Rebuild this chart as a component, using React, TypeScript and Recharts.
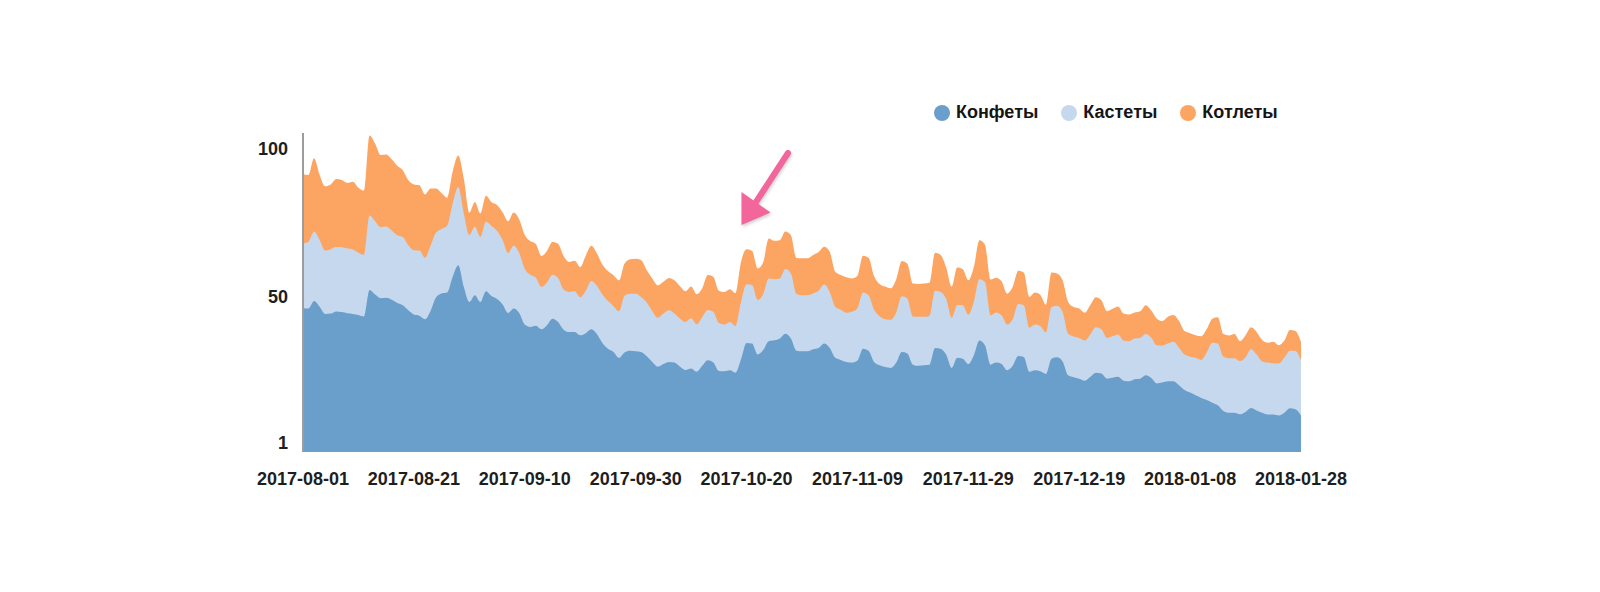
import { ComposedChart, Area, XAxis, YAxis, Legend } from "recharts";

const START_DATE = "2017-08-01";
const DAY_COUNT = 181;

// daily values (Конфеты / Кастеты / Котлеты)
const konfety = [
  46.3, 46.1, 48.6, 46.7, 44.3, 44.4, 45.1, 44.9, 44.5, 44.3, 43.9, 43.4,
  52.3, 50.8, 49.6, 49.7, 49.1, 48.0, 47.2, 45.5, 44.1, 43.7, 42.5, 45.3,
  49.9, 51.2, 51.5, 56.8, 60.7, 53.4, 48.3, 50.6,
  48.3, 51.9, 50.3, 49.3, 47.5, 44.6, 46.1, 44.6, 40.7, 39.9, 40.3, 39.1,
  40.5, 42.7, 41.6, 39.0, 38.2, 38.2, 37.1, 37.8, 39.1, 37.5, 34.5, 32.6,
  31.5, 29.5, 31.3, 31.9, 31.7, 31.5, 30.0, 28.1, 26.5, 27.4, 28.1, 27.9,
  26.5, 25.4, 25.9, 24.8, 26.8, 28.7, 27.9, 25.1, 25.0, 25.3, 24.5, 29.0,
  34.5, 34.3, 30.6, 32.1, 35.1, 35.4, 36.0, 37.6, 36.0, 31.9, 31.7, 31.7,
  32.4, 32.8, 34.3, 32.8, 29.5, 28.8, 28.1, 27.9, 28.6, 32.6, 31.9, 28.1,
  27.0, 26.4, 26.1, 27.9, 31.5, 31.0, 27.2, 26.8, 27.0, 27.2, 32.8, 32.6,
  30.6, 26.1, 29.5, 29.2, 27.4, 30.4, 35.3, 33.7, 27.2, 27.9, 27.4, 25.3,
  26.8, 30.1, 29.8, 24.8, 25.3, 25.0, 24.1, 29.2, 29.7, 28.3, 23.6, 23.0,
  22.5, 21.8, 23.1, 24.5, 24.2, 22.5, 22.8, 23.1, 21.8, 21.6, 22.3, 22.5,
  23.6, 22.7, 20.9, 21.2, 21.6, 21.6, 20.3, 18.7, 17.8, 16.9, 16.0, 15.3,
  14.4, 13.5, 11.6, 11.0, 11.0, 10.5, 11.3, 12.6, 11.8, 11.0, 10.4, 10.4,
  10.1, 11.0, 12.5, 12.2, 10.1,
];

const kastety = [
  21.7, 22.5, 23.4, 22.5, 21.3, 21.7, 21.7, 21.8, 21.8, 21.7, 21.0, 20.8,
  25.1, 24.7, 23.9, 24.0, 23.3, 22.8, 23.0, 21.9, 21.6, 21.9, 20.7, 21.9,
  21.8, 21.7, 22.5, 24.7, 26.3, 24.7, 22.5, 23.0,
  21.9, 23.4, 23.6, 22.9, 21.7, 20.2, 21.1, 20.2, 18.7, 17.6, 16.2, 14.3,
  14.4, 14.8, 14.8, 13.5, 13.5, 13.7, 12.8, 14.3, 16.3, 16.3, 16.3, 16.0,
  15.4, 15.7, 19.1, 19.2, 19.4, 18.5, 18.1, 17.1, 16.5, 17.0, 17.4, 16.5,
  16.2, 16.2, 16.9, 16.0, 16.4, 16.9, 17.1, 16.1, 15.7, 16.3, 15.7, 19.3,
  19.8, 19.7, 18.4, 18.8, 21.1, 20.6, 20.2, 21.8, 21.9, 19.1, 18.9, 18.9,
  18.8, 19.3, 19.9, 18.9, 17.2, 16.9, 16.6, 17.1, 17.6, 18.9, 18.7, 17.6,
  16.5, 16.1, 16.2, 16.9, 18.7, 18.4, 16.2, 16.5, 16.3, 16.4, 19.3, 19.1,
  18.7, 16.9, 17.8, 18.0, 16.6, 18.0, 20.7, 21.3, 16.6, 16.9, 16.4, 15.4,
  15.7, 17.5, 17.4, 14.8, 15.4, 15.1, 13.9, 17.3, 17.3, 16.6, 14.0, 13.7,
  13.7, 13.5, 14.3, 15.3, 14.9, 13.7, 14.0, 14.3, 13.5, 13.5, 13.7, 13.7,
  13.9, 13.6, 12.8, 12.4, 12.7, 13.3, 12.6, 11.9, 12.1, 12.6, 12.8, 16.0,
  20.2, 20.8, 18.3, 18.4, 18.4, 17.9, 18.4, 19.8, 18.8, 17.3, 17.5, 17.3,
  17.5, 18.5, 19.4, 19.6, 18.5,
];

const kotlety = [
  23.3, 22.5, 24.7, 21.9, 21.7, 21.8, 22.9, 22.7, 22.1, 22.8, 21.9, 21.6,
  27.0, 26.2, 24.3, 24.3, 24.0, 23.4, 22.5, 21.9, 22.2, 22.0, 21.3, 19.3,
  14.8, 12.0, 9.4, 10.7, 10.6, 11.8, 7.6, 8.4,
  7.9, 8.8, 8.0, 8.8, 9.3, 10.7, 11.2, 11.3, 11.5, 11.3, 11.3, 10.4,
  10.6, 11.0, 11.5, 11.3, 10.1, 10.3, 10.2, 11.8, 11.8, 10.9, 10.1, 10.1,
  10.4, 10.4, 10.9, 11.6, 11.8, 12.4, 10.9, 11.0, 10.9, 10.7, 10.9, 11.2,
  10.9, 10.3, 10.7, 10.1, 9.7, 11.8, 11.8, 10.9, 11.0, 11.0, 11.1, 13.5,
  11.8, 11.5, 10.6, 10.8, 13.5, 12.9, 12.9, 12.6, 12.9, 12.1, 12.4, 12.4,
  12.9, 13.0, 12.7, 13.5, 11.8, 11.7, 11.9, 11.2, 10.9, 12.4, 12.6, 11.3,
  10.9, 11.0, 10.6, 11.2, 11.9, 11.8, 11.1, 11.1, 11.2, 11.2, 12.8, 12.4,
  10.6, 10.4, 12.6, 12.1, 11.6, 11.8, 13.1, 12.6, 12.1, 11.7, 11.5, 10.4,
  10.9, 11.2, 11.0, 10.4, 10.8, 10.6, 9.4, 11.7, 10.9, 10.7, 10.7, 9.9,
  9.9, 9.4, 9.9, 10.1, 9.8, 9.0, 9.2, 9.4, 9.1, 9.0, 8.8, 9.0,
  9.7, 9.1, 9.0, 8.3, 9.0, 9.0, 9.0, 7.9, 7.9, 7.6, 8.0, 7.9,
  8.1, 8.9, 7.6, 7.6, 8.1, 6.7, 7.4, 7.4, 7.6, 7.2, 6.7, 7.2,
  6.1, 5.8, 7.0, 6.7, 6.2,
];

const yTicks = [1, 50, 100];

const LEGEND = [
  { name: "Конфеты", color: "#6a9fcb" },
  { name: "Кастеты", color: "#c6d8ee" },
  { name: "Котлеты", color: "#fca562" },
];

const FONT = "'Liberation Sans', Arial, sans-serif";

function makeDates(start: string, count: number) {
  const out: string[] = [];
  const t0 = Date.parse(start + "T00:00:00Z");
  for (let i = 0; i < count; i++) {
    out.push(new Date(t0 + i * 86400000).toISOString().slice(0, 10));
  }
  return out;
}

const dates = makeDates(START_DATE, DAY_COUNT);

// cumulative tops so each layer can be painted down to the axis floor
const rows = dates.map((date, i) => ({
  date,
  konf: konfety[i],
  kast: +(konfety[i] + kastety[i]).toFixed(1),
  kotl: +(konfety[i] + kastety[i] + kotlety[i]).toFixed(1),
}));

const renderLegend = () => (
  <div style={{ display: "flex", alignItems: "center", fontFamily: FONT, fontWeight: 700, fontSize: 18, color: "#151515" }}>
    {LEGEND.map((item) => (
      <span key={item.name} style={{ display: "flex", alignItems: "center", marginRight: 23 }}>
        <span style={{ width: 16, height: 16, borderRadius: "50%", background: item.color, marginRight: 6 }} />
        {item.name}
      </span>
    ))}
  </div>
);

export default function App() {
  return (
    <div style={{ position: "relative", width: 1600, height: 592, background: "#fff" }}>
      <style>{"body{margin:0;background:#fff}"}</style>
      <ComposedChart width={1600} height={592} data={rows} margin={{ top: 133, right: 299, bottom: 100, left: 243 }}>
        <XAxis
          dataKey="date"
          interval={19}
          height={40}
          axisLine={false}
          tickLine={false}
          tickMargin={14}
          tick={{ fill: "#1e1e1e", fontSize: 18, fontWeight: 700, fontFamily: FONT }}
        />
        <YAxis
          type="number"
          width={60}
          domain={[-2.2, 105.2]}
          ticks={yTicks}
          interval={0}
          allowDataOverflow
          axisLine={{ stroke: "#9c9c9c", strokeWidth: 2 }}
          tickLine={false}
          tickMargin={9}
          tick={{ fill: "#1e1e1e", fontSize: 18, fontWeight: 700, fontFamily: FONT }}
        />
        <Legend
          layout="horizontal"
          verticalAlign="middle"
          align="center"
          wrapperStyle={{ top: 102, left: 934, width: 440 }}
          content={renderLegend}
        />
        <Area type="monotone" dataKey="kotl" name="Котлеты" stroke="none" fill="#fca562" fillOpacity={1} baseValue="dataMin" isAnimationActive={false} />
        <Area type="monotone" dataKey="kast" name="Кастеты" stroke="none" fill="#c6d8ee" fillOpacity={1} baseValue="dataMin" isAnimationActive={false} />
        <Area type="monotone" dataKey="konf" name="Конфеты" stroke="none" fill="#6a9fcb" fillOpacity={1} baseValue="dataMin" isAnimationActive={false} />
      </ComposedChart>

      {/* pink annotation arrow */}
      <svg width={1600} height={592} style={{ position: "absolute", left: 0, top: 0, pointerEvents: "none" }}>
        <g style={{ filter: "drop-shadow(1px 2px 1.5px rgba(0,0,0,0.18))" }}>
          <line x1={788} y1={153} x2={756} y2={202} stroke="#f2669b" strokeWidth={6} strokeLinecap="round" />
          <polygon points="741.5,225 741.5,192 770.5,212.5" fill="#f2669b" />
        </g>
      </svg>
    </div>
  );
}
